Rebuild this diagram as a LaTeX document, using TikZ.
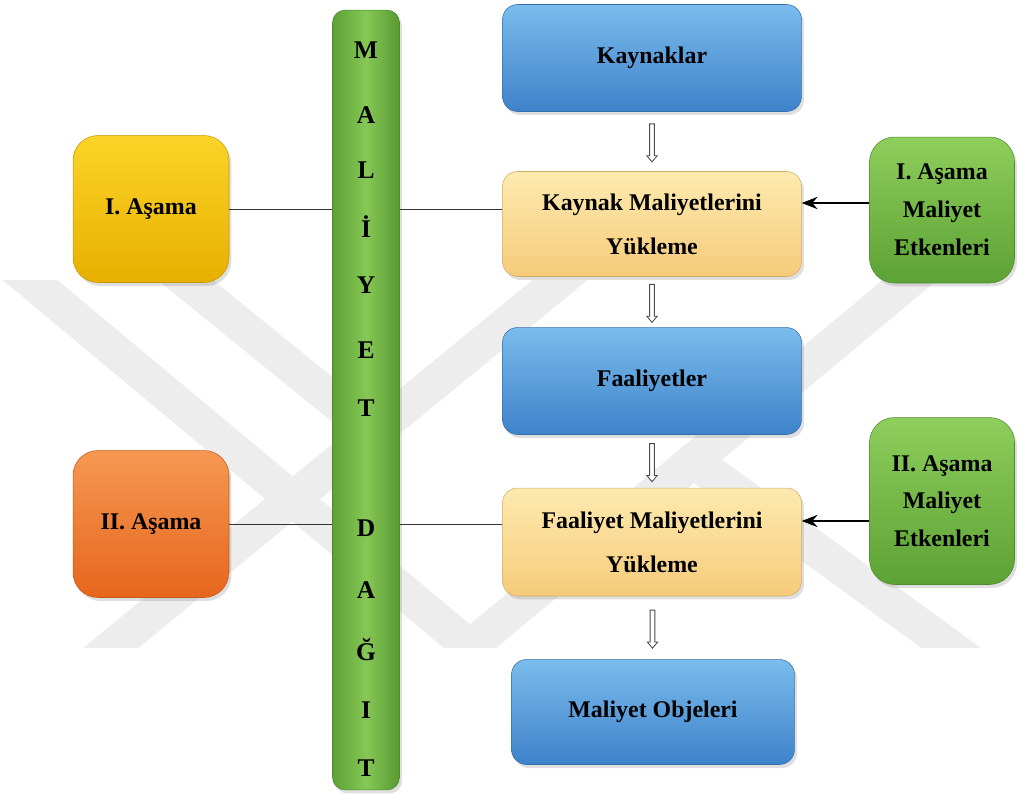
\documentclass[tikz,border=0pt]{standalone}
\usepackage{fontspec}
\setmainfont{Liberation Serif}
\usetikzlibrary{shadows,shapes.arrows,calc,arrows.meta}

\definecolor{blueT}{RGB}{122,188,236}
\definecolor{blueB}{RGB}{62,130,202}
\definecolor{sandT}{RGB}{253,234,175}
\definecolor{sandB}{RGB}{246,203,122}
\definecolor{yelT}{RGB}{250,212,40}
\definecolor{yelB}{RGB}{232,176,0}
\definecolor{orT}{RGB}{246,152,82}
\definecolor{orB}{RGB}{230,102,28}
\definecolor{grT}{RGB}{142,206,92}
\definecolor{grB}{RGB}{92,162,52}

\begin{document}
\begin{tikzpicture}[x=0.02cm,y=-0.02cm,
    box/.style={rounded corners=0.3cm, align=center, text=black,
        minimum width=5.98cm, minimum height=2.14cm,
        font=\fontsize{13.6}{25}\selectfont\bfseries,
        drop shadow={opacity=0.25,shadow xshift=0.05cm,shadow yshift=-0.07cm}},
    bluebox/.style={box, top color=blueT, bottom color=blueB, draw=blueB!85!black, line width=0.3pt},
    sandbox/.style={box, top color=sandT, bottom color=sandB, draw=sandB!85!black, line width=0.3pt},
    stagebox/.style={box, rounded corners=0.5cm, minimum width=3.12cm, minimum height=2.94cm},
    drvbox/.style={box, rounded corners=0.5cm, minimum width=2.9cm, top color=grT, bottom color=grB,
        draw=grB!85!black, line width=0.3pt, font=\fontsize{13.6}{21.5}\selectfont\bfseries},
    lett/.style={font=\fontsize{14.5}{16}\selectfont\bfseries, text=black},
    darr/.style={single arrow, shape border rotate=270, draw=black!70, fill=white, line width=0.5pt,
        inner sep=1.1pt, single arrow head extend=1.6pt, single arrow tip angle=80, minimum height=0.76cm},
    wmark/.style={line width=0.7cm, black!7, line join=miter}]
\useasboundingbox (0,0) rectangle (1020,794);

% watermark in the back
\begin{scope}
    \clip (0,280) rectangle (1020,647);
    \draw[wmark] (-18,240) -- (470,647) -- (958,240);
    \draw[wmark] (609,240) -- (63,687);
    \draw[wmark] (136,240) -- (365,426);
    \draw[wmark] (683,453) -- (1005,687);
\end{scope}

% the bar
\node[box, rounded corners=0.25cm, minimum width=1.34cm, minimum height=15.6cm,
    left color=grB, right color=grB!95!black, middle color=grT!85!grB, draw=grB!85!black, line width=0.3pt]
    (bar) at (366,400) {};
\foreach \c/\yy [count=\i] in {M/50,A/115,L/170,İ/227,Y/285,E/350,T/408,D/528,A/590,Ğ/650,I/710,T/768}
    \node[lett] (l\i) at (366,\yy) {\c};

% main column
\node[bluebox] (kay) at (652,58) {Kaynaklar};
\node[sandbox, minimum height=2.1cm] (kmy) at (652,224) {Kaynak Maliyetlerini\\Yükleme};
\node[bluebox] (faal) at (652,381) {Faaliyetler};
\node[sandbox, minimum height=2.16cm] (fmy) at (652,542) {Faaliyet Maliyetlerini\\Yükleme};
\node[bluebox, minimum width=5.66cm, minimum height=2.1cm] (mobj) at (653,712) {Maliyet Objeleri};

% stages
\node[stagebox, top color=yelT, bottom color=yelB, draw=yelB!85!black, line width=0.3pt] (asm1) at (151,209) {I. Aşama};
\node[stagebox, top color=orT, bottom color=orB, draw=orB!85!black, line width=0.3pt] (asm2) at (151,524) {II. Aşama};

% drivers
\node[drvbox, minimum height=2.92cm] (etk1) at (942,210) {I. Aşama\\Maliyet\\Etkenleri};
\node[drvbox, minimum height=3.34cm] (etk2) at (942,501) {II. Aşama\\Maliyet\\Etkenleri};

% down arrows
\node[darr] (d1) at ($(kay.south)!0.5!(kmy.north)$) {};
\node[darr] (d2) at ($(kmy.south)!0.5!(faal.north)$) {};
\node[darr] (d3) at ($(faal.south)!0.5!(fmy.north)$) {};
\node[darr] (d4) at ($(fmy.south)!0.5!(mobj.north)$) {};

% lines through the bar
\draw[black!80] (asm1.east) -- (asm1.east -| bar.west);
\draw[black!80] (asm1.east -| bar.east) -- (asm1.east -| kmy.west);
\draw[black!80] (asm2.east) -- (asm2.east -| bar.west);
\draw[black!80] (asm2.east -| bar.east) -- (asm2.east -| fmy.west);

% driver arrows
\draw[-{Stealth[length=9pt,width=7pt]}, line width=0.8pt] ([yshift=0.14cm]etk1.west) -- ([yshift=0.14cm]etk1.west -| kmy.east);
\draw[-{Stealth[length=9pt,width=7pt]}, line width=0.8pt] ([yshift=-0.4cm]etk2.west) -- ([yshift=-0.4cm]etk2.west -| fmy.east);
\end{tikzpicture}
\end{document}
